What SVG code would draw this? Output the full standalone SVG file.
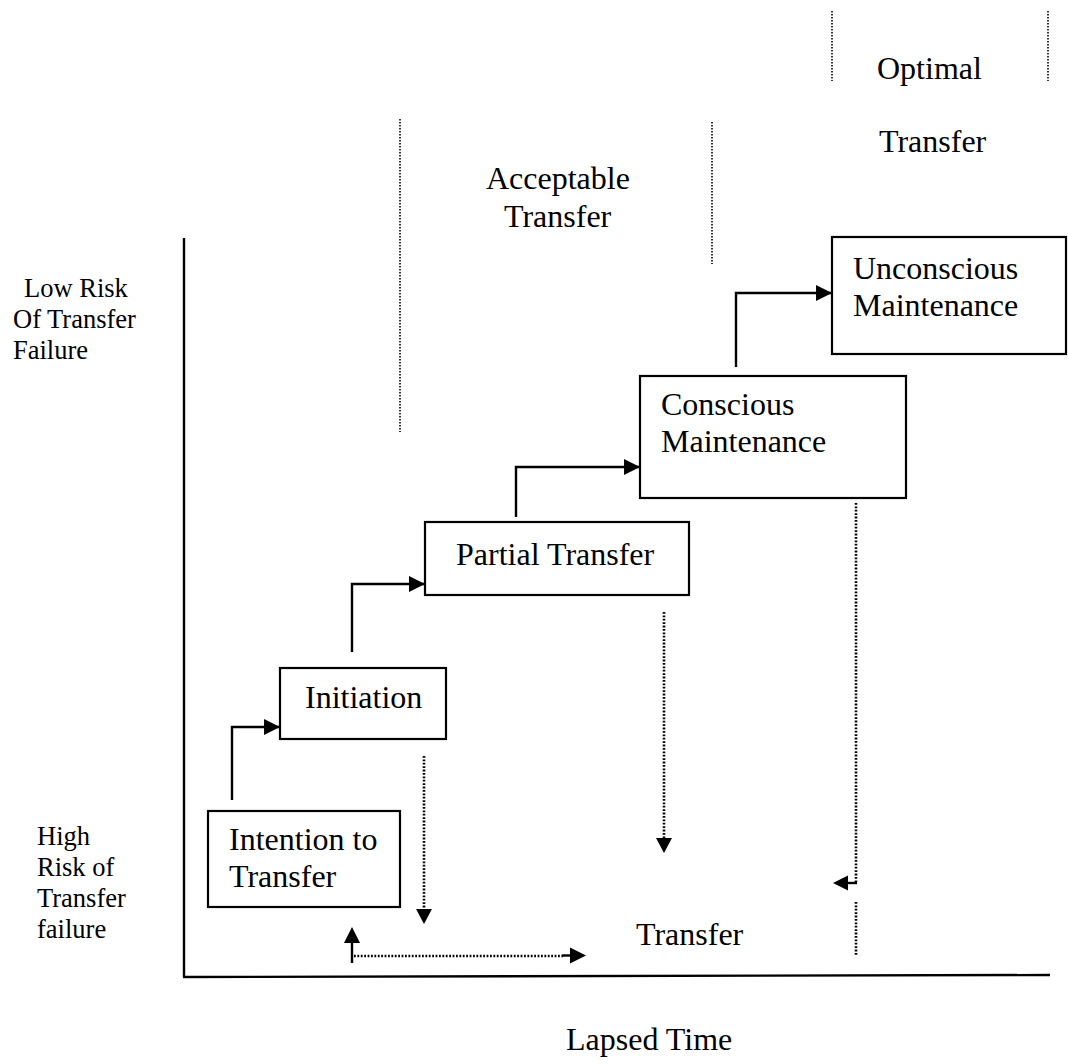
<svg xmlns="http://www.w3.org/2000/svg" width="1068" height="1064" viewBox="0 0 1068 1064">
<style>
text{font-family:"Liberation Serif","Times New Roman",serif;fill:#000}
.bt{font-size:32px}
.lt{font-size:26.5px}
.box{fill:#fff;stroke:#000;stroke-width:2.2}
.axis{stroke:#000;stroke-width:2.4;fill:none}
.solid{stroke:#000;stroke-width:2.4;fill:none}
.dot{stroke:#000;stroke-width:2.6;fill:none;stroke-dasharray:1.8 1.6}
.thin{stroke:#000;stroke-width:1.6;fill:none;stroke-dasharray:1.4 1.6}
</style>
<defs>
<marker id="ah" markerUnits="userSpaceOnUse" markerWidth="17" markerHeight="16" refX="16" refY="8" orient="auto">
<path d="M0,0 L16,8 L0,16 z" fill="#000"/>
</marker>
</defs>
<rect width="1068" height="1064" fill="#fff"/>

<g id="axes">
<line class="axis" x1="184" y1="238" x2="184" y2="977"/>
<line class="axis" x1="183" y1="977" x2="1050" y2="975"/>
</g>

<g id="zones">
<line class="thin" x1="400" y1="119" x2="400" y2="432"/>
<line class="thin" x1="712" y1="122" x2="712" y2="264"/>
<line class="thin" x1="832" y1="11" x2="832" y2="81"/>
<line class="thin" x1="1048" y1="11" x2="1048" y2="81"/>
</g>

<g id="labels">
<text class="bt" x="877" y="79">Optimal</text>
<text class="bt" x="879" y="152">Transfer</text>
<text class="bt" x="486" y="189">Acceptable</text>
<text class="bt" x="504" y="227">Transfer</text>
<text class="lt" x="24" y="297">Low Risk</text>
<text class="lt" x="13" y="328">Of Transfer</text>
<text class="lt" x="13" y="359">Failure</text>
<text class="lt" x="37" y="845">High</text>
<text class="lt" x="37" y="876">Risk of</text>
<text class="lt" x="37" y="907">Transfer</text>
<text class="lt" x="37" y="938">failure</text>
<text class="bt" x="636" y="945">Transfer</text>
<text class="bt" x="566" y="1050">Lapsed Time</text>
</g>

<g id="node-intention">
<rect class="box" x="208" y="811" width="192" height="96"/>
<text class="bt" x="229" y="850">Intention to</text>
<text class="bt" x="229" y="887">Transfer</text>
</g>
<g id="node-initiation">
<rect class="box" x="280" y="668" width="166" height="71"/>
<text class="bt" x="305" y="708">Initiation</text>
</g>
<g id="node-partial">
<rect class="box" x="425" y="522" width="264" height="73"/>
<text class="bt" x="456" y="565">Partial Transfer</text>
</g>
<g id="node-conscious">
<rect class="box" x="640" y="376" width="266" height="122"/>
<text class="bt" x="661" y="415">Conscious</text>
<text class="bt" x="661" y="452">Maintenance</text>
</g>
<g id="node-unconscious">
<rect class="box" x="832" y="237" width="234" height="117"/>
<text class="bt" x="853" y="279">Unconscious</text>
<text class="bt" x="853" y="316">Maintenance</text>
</g>

<g id="connectors">
<polyline class="solid" points="232,800 232,727 280,727" marker-end="url(#ah)"/>
<polyline class="solid" points="352,652 352,584 425,584" marker-end="url(#ah)"/>
<polyline class="solid" points="516,517 516,467 640,467" marker-end="url(#ah)"/>
<polyline class="solid" points="736,367 736,293 832,293" marker-end="url(#ah)"/>

<line class="dot" x1="424" y1="756" x2="424" y2="910"/>
<path d="M416,909 L432,909 L424,924 z" fill="#000"/>

<line class="solid" x1="352" y1="963" x2="352" y2="942"/>
<path d="M344,943 L360,943 L352,927 z" fill="#000"/>
<line class="dot" x1="354" y1="956" x2="564" y2="956"/>
<line class="solid" x1="562" y1="955.5" x2="571" y2="955.5"/>
<path d="M570,947.5 L586,955.5 L570,963.5 z" fill="#000"/>

<line class="dot" x1="664" y1="612" x2="664" y2="838"/>
<path d="M656,838 L672,838 L664,853 z" fill="#000"/>

<line class="dot" x1="856" y1="503" x2="856" y2="882"/>
<line class="solid" x1="857" y1="883" x2="847" y2="883"/>
<path d="M848,875.5 L848,890.5 L833,883 z" fill="#000"/>
<line class="dot" x1="856" y1="902" x2="856" y2="955"/>
</g>
</svg>
